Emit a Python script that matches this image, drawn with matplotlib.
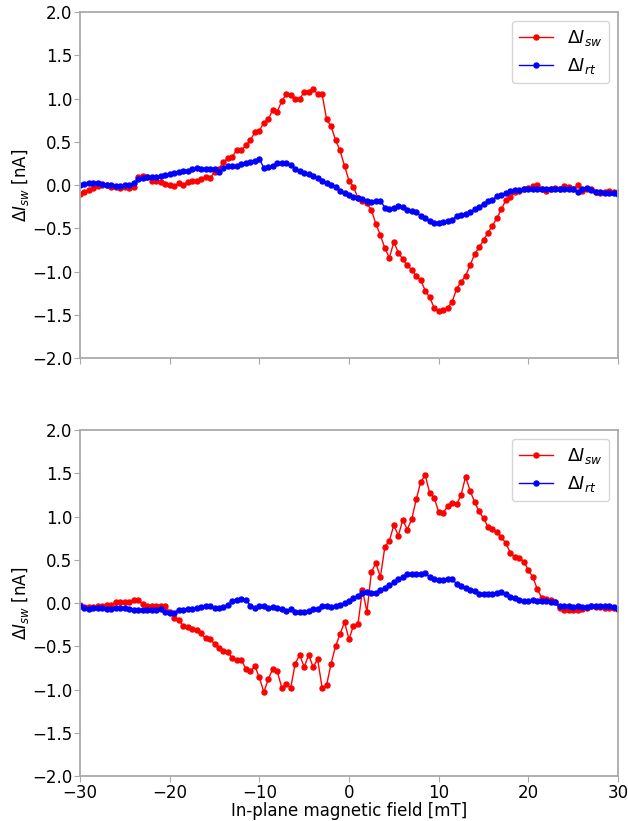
import numpy as np
import matplotlib
matplotlib.use('Agg')
import matplotlib.pyplot as plt

# Barrido del campo en el plano (mT), paso de 0.5 mT
campo = np.linspace(-30, 30, 121)

# Panel superior
sw_arriba = [
    -0.10, -0.08, -0.06, -0.03, -0.01, 0.00, 0.00, -0.02, -0.02, -0.03,
    -0.02, -0.03, -0.02, 0.09, 0.10, 0.09, 0.05, 0.05, 0.04, 0.01,
    0.00, -0.01, 0.02, 0.00, 0.03, 0.05, 0.05, 0.07, 0.09, 0.08,
    0.15, 0.19, 0.27, 0.31, 0.33, 0.41, 0.40, 0.46, 0.52, 0.61,
    0.63, 0.72, 0.76, 0.87, 0.85, 0.97, 1.05, 1.04, 1.00, 0.99,
    1.08, 1.08, 1.11, 1.05, 1.05, 0.76, 0.68, 0.52, 0.40, 0.22,
    0.05, -0.02, -0.15, -0.18, -0.21, -0.29, -0.45, -0.58, -0.73, -0.84,
    -0.66, -0.78, -0.86, -0.93, -0.98, -1.05, -1.10, -1.22, -1.30, -1.42,
    -1.46, -1.44, -1.42, -1.35, -1.20, -1.12, -1.05, -0.93, -0.80, -0.72,
    -0.64, -0.55, -0.47, -0.38, -0.28, -0.17, -0.14, -0.08, -0.07, -0.04,
    -0.03, -0.01, 0.00, -0.04, -0.07, -0.04, -0.03, -0.05, -0.01, -0.02,
    -0.05, 0.00, -0.07, -0.04, -0.05, -0.08, -0.09, -0.08, -0.07, -0.08,
    -0.08,
]
rt_arriba = [
    0.00, 0.01, 0.02, 0.02, 0.02, 0.01, 0.00, 0.00, -0.01, -0.01,
    0.00, 0.00, 0.02, 0.07, 0.08, 0.09, 0.09, 0.09, 0.10, 0.12,
    0.13, 0.14, 0.15, 0.16, 0.16, 0.18, 0.20, 0.19, 0.18, 0.18,
    0.18, 0.15, 0.20, 0.22, 0.22, 0.22, 0.24, 0.26, 0.27, 0.28,
    0.30, 0.20, 0.21, 0.22, 0.25, 0.26, 0.25, 0.23, 0.19, 0.16,
    0.14, 0.13, 0.11, 0.08, 0.05, 0.02, 0.00, -0.02, -0.07, -0.09,
    -0.12, -0.14, -0.15, -0.16, -0.19, -0.20, -0.18, -0.18, -0.26, -0.28,
    -0.27, -0.24, -0.25, -0.29, -0.30, -0.31, -0.36, -0.38, -0.42, -0.44,
    -0.44, -0.43, -0.41, -0.40, -0.36, -0.35, -0.34, -0.31, -0.28, -0.25,
    -0.22, -0.19, -0.17, -0.13, -0.11, -0.09, -0.07, -0.06, -0.06, -0.05,
    -0.05, -0.05, -0.04, -0.05, -0.04, -0.04, -0.05, -0.04, -0.04, -0.05,
    -0.05, -0.08, -0.04, -0.03, -0.06, -0.08, -0.08, -0.09, -0.09, -0.09,
    -0.10,
]

# Panel inferior
sw_abajo = [
    -0.02, -0.05, -0.05, -0.05, -0.04, -0.03, -0.02, -0.02, 0.01, 0.01,
    0.01, 0.01, 0.03, 0.03, -0.01, -0.03, -0.03, -0.03, -0.03, -0.03,
    -0.10, -0.17, -0.20, -0.26, -0.28, -0.30, -0.31, -0.35, -0.41, -0.42,
    -0.47, -0.52, -0.55, -0.57, -0.64, -0.66, -0.66, -0.76, -0.79, -0.73,
    -0.86, -1.03, -0.88, -0.76, -0.79, -0.98, -0.94, -0.98, -0.70, -0.60,
    -0.74, -0.60, -0.74, -0.65, -0.98, -0.95, -0.70, -0.50, -0.36, -0.22,
    -0.42, -0.26, -0.24, 0.15, -0.10, 0.36, 0.46, 0.30, 0.65, 0.72,
    0.90, 0.78, 0.96, 0.85, 0.97, 1.20, 1.40, 1.48, 1.27, 1.22,
    1.05, 1.04, 1.12, 1.16, 1.14, 1.25, 1.46, 1.30, 1.17, 1.06,
    0.98, 0.88, 0.86, 0.82, 0.76, 0.69, 0.58, 0.53, 0.52, 0.48,
    0.38, 0.30, 0.16, 0.06, 0.05, 0.04, 0.01, -0.06, -0.08, -0.08,
    -0.08, -0.08, -0.07, -0.06, -0.04, -0.05, -0.05, -0.06, -0.06, -0.06,
    -0.07,
]
rt_abajo = [
    -0.04, -0.06, -0.07, -0.06, -0.06, -0.06, -0.07, -0.07, -0.06, -0.06,
    -0.06, -0.07, -0.08, -0.08, -0.08, -0.08, -0.08, -0.08, -0.07, -0.10,
    -0.11, -0.11, -0.08, -0.08, -0.07, -0.07, -0.06, -0.05, -0.03, -0.04,
    -0.06, -0.06, -0.05, -0.02, 0.02, 0.04, 0.05, 0.04, -0.03, -0.06,
    -0.04, -0.04, -0.06, -0.05, -0.06, -0.07, -0.09, -0.07, -0.10, -0.10,
    -0.10, -0.09, -0.07, -0.07, -0.03, -0.03, -0.05, -0.04, -0.02, 0.00,
    0.02, 0.06, 0.08, 0.12, 0.13, 0.12, 0.12, 0.15, 0.17, 0.21,
    0.24, 0.28, 0.30, 0.33, 0.34, 0.33, 0.33, 0.35, 0.30, 0.28,
    0.27, 0.27, 0.28, 0.28, 0.22, 0.20, 0.17, 0.15, 0.14, 0.11,
    0.11, 0.11, 0.11, 0.12, 0.13, 0.10, 0.07, 0.06, 0.04, 0.02,
    0.02, 0.03, 0.02, 0.02, 0.02, 0.01, 0.01, -0.04, -0.04, -0.04,
    -0.05, -0.04, -0.05, -0.05, -0.04, -0.03, -0.04, -0.04, -0.04, -0.05,
    -0.07,
]

fig = plt.figure(figsize=(6.28, 8.21), dpi=100)
ax = fig.add_axes([0.1274, 0.5639, 0.8567, 0.4214])
bx = fig.add_axes([0.1274, 0.0548, 0.8567, 0.4214], sharex=ax)

gris = '#aaaaaa'
for eje, sw, rt in ((ax, sw_arriba, rt_arriba), (bx, sw_abajo, rt_abajo)):
    eje.plot(campo, sw, '-o', color='red', ms=3.6, lw=1.0, label=r'$\Delta I_{sw}$')
    eje.plot(campo, rt, '-o', color='blue', ms=3.6, lw=1.0, label=r'$\Delta I_{rt}$')
    eje.set_xlim(-30, 30)
    eje.set_ylim(-2, 2)
    eje.set_yticks(np.arange(-2, 2.01, 0.5))
    eje.set_ylabel(r'$\Delta I_{sw}$ [nA]', fontsize=12, labelpad=1)
    eje.tick_params(labelsize=12, color=gris, length=4, pad=1.5)
    for s in eje.spines.values():
        s.set_color(gris)
        s.set_linewidth(1.3)
    eje.legend(loc='upper right', fontsize=12.5)

ax.tick_params(labelbottom=False)
bx.set_xticks([-30, -20, -10, 0, 10, 20, 30])
bx.set_xlabel('In-plane magnetic field [mT]', fontsize=12, labelpad=0)

fig.savefig('out.png', dpi=100)
